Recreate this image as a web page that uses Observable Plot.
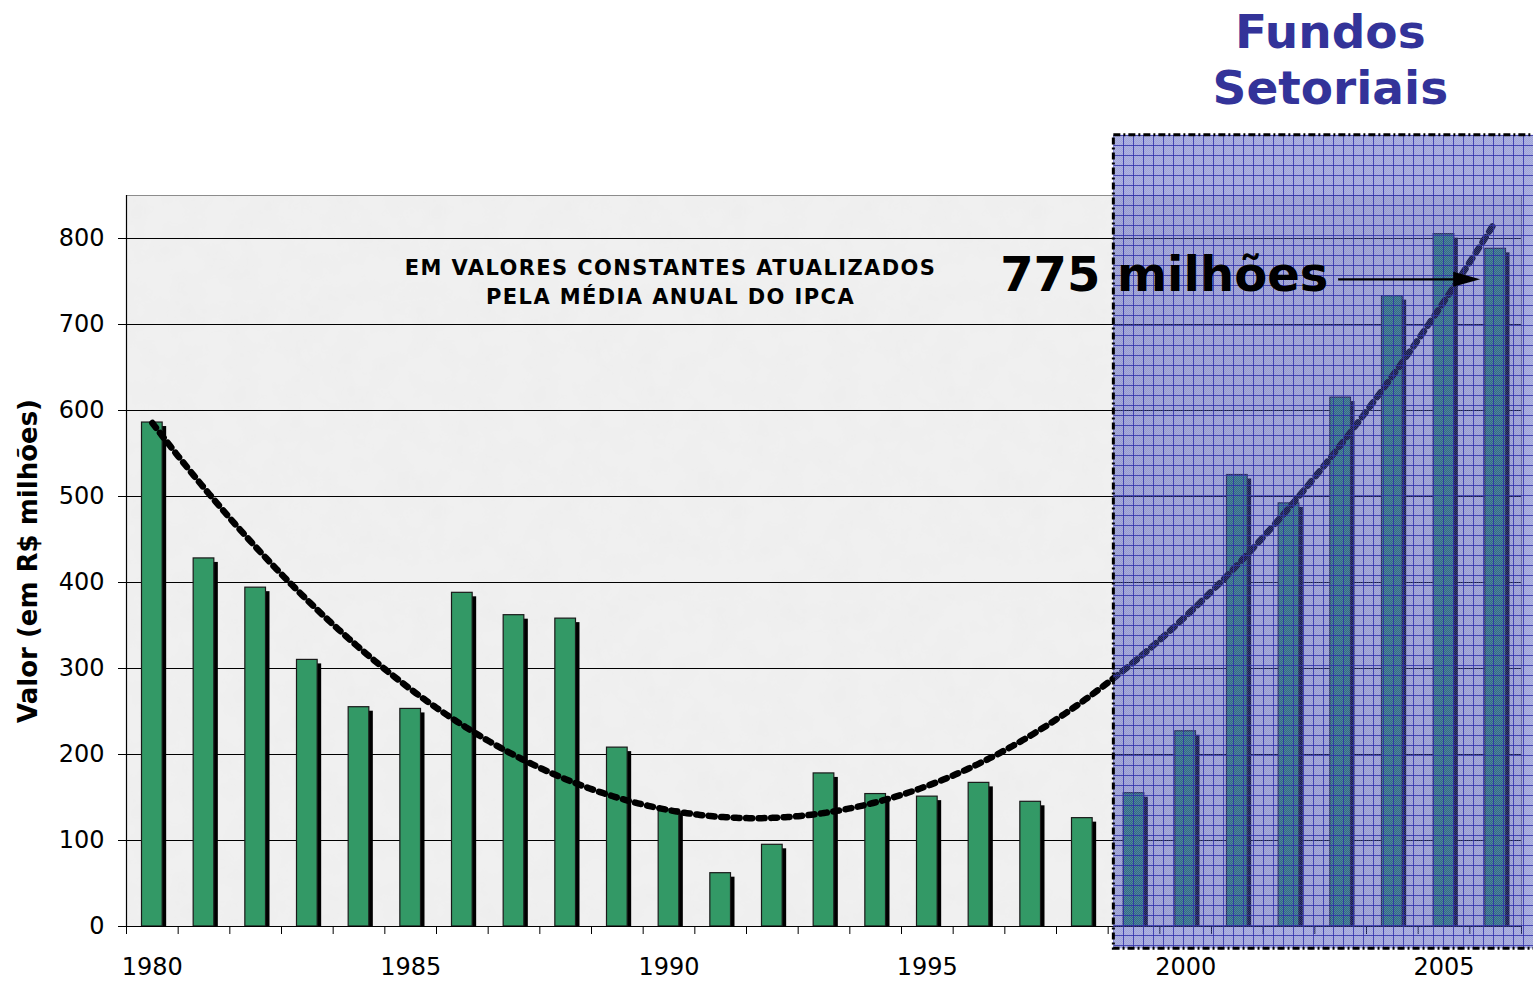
<!DOCTYPE html>
<html><head><meta charset="utf-8">
<script src="https://cdn.jsdelivr.net/npm/d3@7"></script>
<script src="https://cdn.jsdelivr.net/npm/@observablehq/plot@0.6"></script>
<style>
html,body{margin:0;padding:0;background:#fff;overflow:hidden}
#chart svg{display:block}
</style></head><body><div id="chart"></div>
<script>
// ---- data ----
const years = [1980,1981,1982,1983,1984,1985,1986,1987,1988,1989,1990,1991,1992,1993,
               1994,1995,1996,1997,1998,1999,2000,2001,2002,2003,2004,2005,2006];
const values = [586,428,394,310,255,253,388,362,358,208,136,62,95,178,
                154,151,167,145,126,155,227,525,492,615,733,805,788];
const yTicks = [0,100,200,300,400,500,600,700,800];
const xLabelYears = [1980,1985,1990,1995,2000,2005];
const yLabel = "Valor (em R$ milhões)";
const noteLines = ["EM VALORES CONSTANTES ATUALIZADOS","PELA MÉDIA ANUAL DO IPCA"];
const headLines = ["Fundos","Setoriais"];
const calloutText = "775 milhões";

// ---- derived ----
const data = years.map((year,i)=>({year, value: values[i]}));
// quadratic least-squares trend (Excel "polynomial, order 2")
function quadFit(xs, ys){
  const x0 = d3.mean(xs);
  const S=[0,0,0,0,0], T=[0,0,0];
  xs.forEach((x,i)=>{const t=x-x0; let p=1; for(let k=0;k<5;k++){S[k]+=p; if(k<3) T[k]+=p*ys[i]; p*=t;}});
  const M=[[S[0],S[1],S[2]],[S[1],S[2],S[3]],[S[2],S[3],S[4]]];
  const det=m=>m[0][0]*(m[1][1]*m[2][2]-m[1][2]*m[2][1])-m[0][1]*(m[1][0]*m[2][2]-m[1][2]*m[2][0])+m[0][2]*(m[1][0]*m[2][1]-m[1][1]*m[2][0]);
  const D=det(M);
  const coef=[0,1,2].map(j=>det(M.map((row,r)=>row.map((v,c)=>c===j?T[r]:v)))/D);
  return x=>{const t=x-x0; return coef[0]+coef[1]*t+coef[2]*t*t;};
}
const fit = quadFit(years, values);
const trendX = d3.range(0, 521).map(i=>years[0]+i*0.05);
const trend = trendX.map(x=>({year:x, value:fit(x)}));
const boundaries = years.map(y=>y-0.5).concat([years[years.length-1]+0.5]);
const half = 0.2;

const W=1533, H=981;
const plot = Plot.plot({
  width: W, height: H,
  marginLeft: 126, marginRight: 12, marginTop: 195, marginBottom: 55,
  style: {fontFamily: "'DejaVu Sans', sans-serif", fontSize: "24px", color: "#000", background: "transparent", overflow: "visible"},
  x: {domain: [1979.5, 2006.5], axis: null, label: null},
  y: {domain: [0, 850], axis: null, label: null},
  marks: [
    Plot.frame({fill: "#f0f0f0"}),
    Plot.frame({fill: "url(#mottle)"}),
    Plot.ruleY(yTicks.filter(d=>d>0), {stroke: "#000", strokeWidth: 1}),
    Plot.rect(data, {x1: d=>d.year-half, x2: d=>d.year+half, y1: 0, y2: "value", fill: "#000", dx: 4, insetTop: 4}),
    Plot.rect(data, {x1: d=>d.year-half, x2: d=>d.year+half, y1: 0, y2: "value", fill: "#339966", stroke: "#1a1a1a", strokeWidth: 1.2}),
    Plot.line(trend, {x: "year", y: "value", stroke: "#000", strokeWidth: 6.5, strokeDasharray: "6,6.5", strokeLinecap: "round"}),
    Plot.frame({stroke: "#8c8c8c"}),
    Plot.ruleX([1979.5], {stroke: "#000", strokeWidth: 1.2}),
    Plot.ruleY([0], {stroke: "#000", strokeWidth: 1.2}),
    Plot.axisY({ticks: yTicks, tickSize: 8, tickPadding: 14, fontSize: 24, label: null, anchor: "left"}),
    Plot.axisX({ticks: boundaries, tickSize: 8, tickFormat: ()=>"", label: null, anchor: "bottom"}),
    Plot.axisX({ticks: xLabelYears, tickSize: 0, tickPadding: 31, tickFormat: d=>String(d), fontSize: 24, label: null, anchor: "bottom"}),
    Plot.text(noteLines, {x: 1990.03, y: (d,i)=>[765,731.4][i], text: d=>d, fontSize: 21, fontWeight: "bold", lineAnchor: "middle", fill: "#000"}),
    Plot.text([yLabel], {frameAnchor: "left", textAnchor: "middle", rotate: -90, dx: -98, fontSize: 26, fontWeight: "bold", text: d=>d}),
    // overlay "Fundos Setoriais" period
    Plot.rect([0], {x1: 1998.61, x2: 2007.2, y1: -26, y2: 920, fill: "url(#fsGrid)"}),
    Plot.rect([0], {x1: 1998.61, x2: 2007.2, y1: -26, y2: 920, fill: "none", stroke: "#000", strokeWidth: 3, strokeDasharray: "7,3,2,3"}),
    Plot.text([calloutText], {x: 1996.41, y: 757, text: d=>d, textAnchor: "start", lineAnchor: "middle", fontSize: 48, fontWeight: "bold", fill: "#000"}),
    Plot.text(headLines, {x: 2002.8, y: (d,i)=>[1039.5,974][i], text: d=>d, lineAnchor: "middle", fontSize: 47, fontWeight: "bold", fill: "#333399"})
  ]
});

const svg = d3.select(plot);
const defs = svg.insert("defs", ":first-child");
// mottled paper texture
const flt = defs.append("filter").attr("id","noise").attr("x",0).attr("y",0).attr("width","100%").attr("height","100%");
flt.append("feTurbulence").attr("type","fractalNoise").attr("baseFrequency","0.035").attr("numOctaves",3).attr("seed",4);
flt.append("feColorMatrix").attr("type","matrix").attr("values","0 0 0 0 0.55  0 0 0 0 0.55  0 0 0 0 0.55  0 0 0 -1.2 0.75");
const mot = defs.append("pattern").attr("id","mottle").attr("width",300).attr("height",300).attr("patternUnits","userSpaceOnUse");
mot.append("rect").attr("width",300).attr("height",300).attr("filter","url(#noise)").attr("opacity",0.09);
const chk = defs.append("pattern").attr("id","fsChk").attr("width",2).attr("height",2).attr("patternUnits","userSpaceOnUse");
chk.append("rect").attr("width",1).attr("height",1).attr("fill","rgba(255,255,255,0.16)");
chk.append("rect").attr("x",1).attr("y",1).attr("width",1).attr("height",1).attr("fill","rgba(255,255,255,0.16)");
const grid = defs.append("pattern").attr("id","fsGrid").attr("width",10).attr("height",10).attr("patternUnits","userSpaceOnUse").attr("x",1113).attr("y",135);
grid.append("rect").attr("width",10).attr("height",10).attr("fill","rgba(45,55,175,0.45)");
grid.append("rect").attr("width",10).attr("height",10).attr("fill","url(#fsChk)");
grid.append("path").attr("d","M0,0.5H10M0.5,0V10").attr("stroke","rgba(45,45,170,0.8)").attr("stroke-width",1).attr("fill","none");

// letter spacing for the note
svg.selectAll("text").filter(function(){return noteLines.includes(this.textContent);}).attr("letter-spacing","1.4px");

// arrow pointing to the last bar
const sx = plot.scale("x"), sy = plot.scale("y");
const ay = sy.apply(752), ax0 = sx.apply(2002.96), tip = sx.apply(2005.71);
const ag = svg.append("g");
ag.append("line").attr("x1",ax0).attr("x2",tip-24).attr("y1",ay).attr("y2",ay).attr("stroke","#000").attr("stroke-width",2.2);
ag.append("path").attr("d",`M${tip},${ay}L${tip-27},${ay-7.5}L${tip-27},${ay+7.5}Z`).attr("fill","#000");

document.getElementById("chart").appendChild(plot);
</script></body></html>
